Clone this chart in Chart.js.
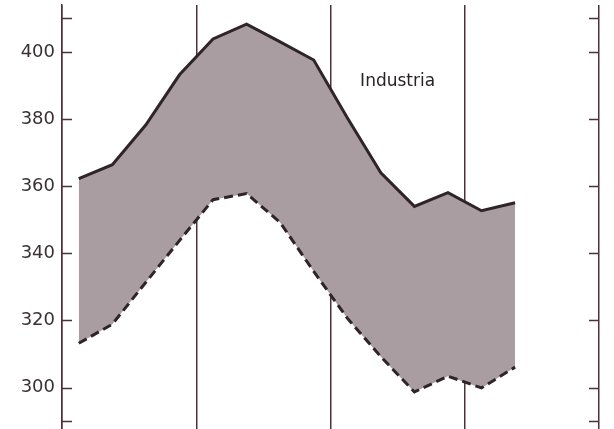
<!DOCTYPE html>
<html lang="es">
<head>
<meta charset="utf-8" />
<title>Industria</title>
<script src="https://cdn.jsdelivr.net/npm/chart.js@4/dist/chart.umd.min.js"></script>
<style>
  html, body { margin: 0; padding: 0; background: #fff; }
  #wrap { width: 614px; height: 429px; position: relative; }
</style>
</head>
<body>
<div id="wrap"><canvas id="chart"></canvas></div>
<script>
// trimestres (4 años, los dos ultimos sin dato)
var quarters = ['I-1', 'II-1', 'III-1', 'IV-1', 'I-2', 'II-2', 'III-2', 'IV-2',
                'I-3', 'II-3', 'III-3', 'IV-3', 'I-4', 'II-4', 'III-4', 'IV-4'];

// limite superior (linea continua) e inferior (linea discontinua), miles
var upper = [362.3, 366.4, 378.3, 393.2, 403.9, 408.3, 403.0, 397.6,
             380.4, 364.0, 354.0, 358.1, 352.7, 355.1, null, null];
var lower = [313.2, 318.9, 331.4, 343.8, 356.0, 357.8, 349.2, 334.6,
             320.7, 309.2, 298.7, 303.4, 299.9, 306.1, null, null];

var yTicks = [290, 300, 320, 340, 360, 380, 400, 410];
var yLabelled = [300, 320, 340, 360, 380, 400];

var label = 'Industria';

var ink = '#2f2427';
var rule = '#4e3238';
var shade = '#aa9da2';

// short tick marks pointing inward on both side axes
var innerTicks = {
    id: 'innerTicks',
    afterDraw: function (chart) {
        var y = chart.scales.y, a = chart.chartArea, c = chart.ctx;
        c.save();
        c.strokeStyle = rule;
        c.lineWidth = 1.5;
        y.ticks.forEach(function (t) {
            var py = Math.round(y.getPixelForValue(t.value)) + 0.5;
            c.beginPath();
            c.moveTo(a.left, py); c.lineTo(a.left + 10, py);
            c.moveTo(a.right, py); c.lineTo(a.right - 10, py);
            c.stroke();
        });
        c.restore();
    }
};

var seriesLabel = {
    id: 'seriesLabel',
    afterDatasetsDraw: function (chart) {
        var x = chart.scales.x, y = chart.scales.y, c = chart.ctx;
        var px = (x.getPixelForValue(9) + x.getPixelForValue(10)) / 2;
        c.save();
        c.fillStyle = '#2a2226';
        c.font = '17px "DejaVu Sans"';
        c.textAlign = 'center';
        c.textBaseline = 'alphabetic';
        c.fillText(label, px, y.getPixelForValue(390));
        c.restore();
    }
};

new Chart(document.getElementById('chart'), {
    type: 'line',
    data: {
        labels: quarters,
        datasets: [
            {
                data: upper,
                borderColor: ink,
                borderWidth: 3,
                backgroundColor: shade,
                fill: '+1',
                pointRadius: 0,
                tension: 0
            },
            {
                data: lower,
                borderColor: ink,
                borderWidth: 3,
                borderDash: [9, 5],
                fill: false,
                pointRadius: 0,
                tension: 0
            }
        ]
    },
    options: {
        responsive: true,
        maintainAspectRatio: false,
        animation: false,
        layout: { padding: { top: 5, right: 15, bottom: 0, left: 0 } },
        plugins: {
            legend: { display: false },
            tooltip: { enabled: false },
            filler: { drawTime: 'beforeDatasetsDraw' }
        },
        scales: {
            x: {
                offset: true,
                z: 1,
                afterFit: function (s) { s.height = 0; },
                grid: {
                    offset: true,
                    drawTicks: false,
                    lineWidth: 1.5,
                    color: function (ctx) {
                        if (ctx.type === 'scale' || ctx.index % 4 === 0) return rule;
                        return 'rgba(0,0,0,0)';
                    }
                },
                border: { display: false },
                ticks: { display: false }
            },
            y: {
                min: 287.8,
                max: 414,
                afterFit: function (s) { s.width = 62; },
                afterBuildTicks: function (s) {
                    s.ticks = yTicks.map(function (v) { return { value: v }; });
                },
                grid: { drawOnChartArea: false, drawTicks: true, tickLength: 7, tickColor: 'rgba(0,0,0,0)' },
                border: { display: true, color: rule, width: 1.5 },
                ticks: {
                    padding: 0,
                    color: '#3a3035',
                    font: { family: 'DejaVu Sans', size: 18, lineHeight: 0.05 },
                    callback: function (v) { return yLabelled.indexOf(v) >= 0 ? String(v) : ''; }
                }
            }
        }
    },
    plugins: [innerTicks, seriesLabel]
});
</script>
</body>
</html>
